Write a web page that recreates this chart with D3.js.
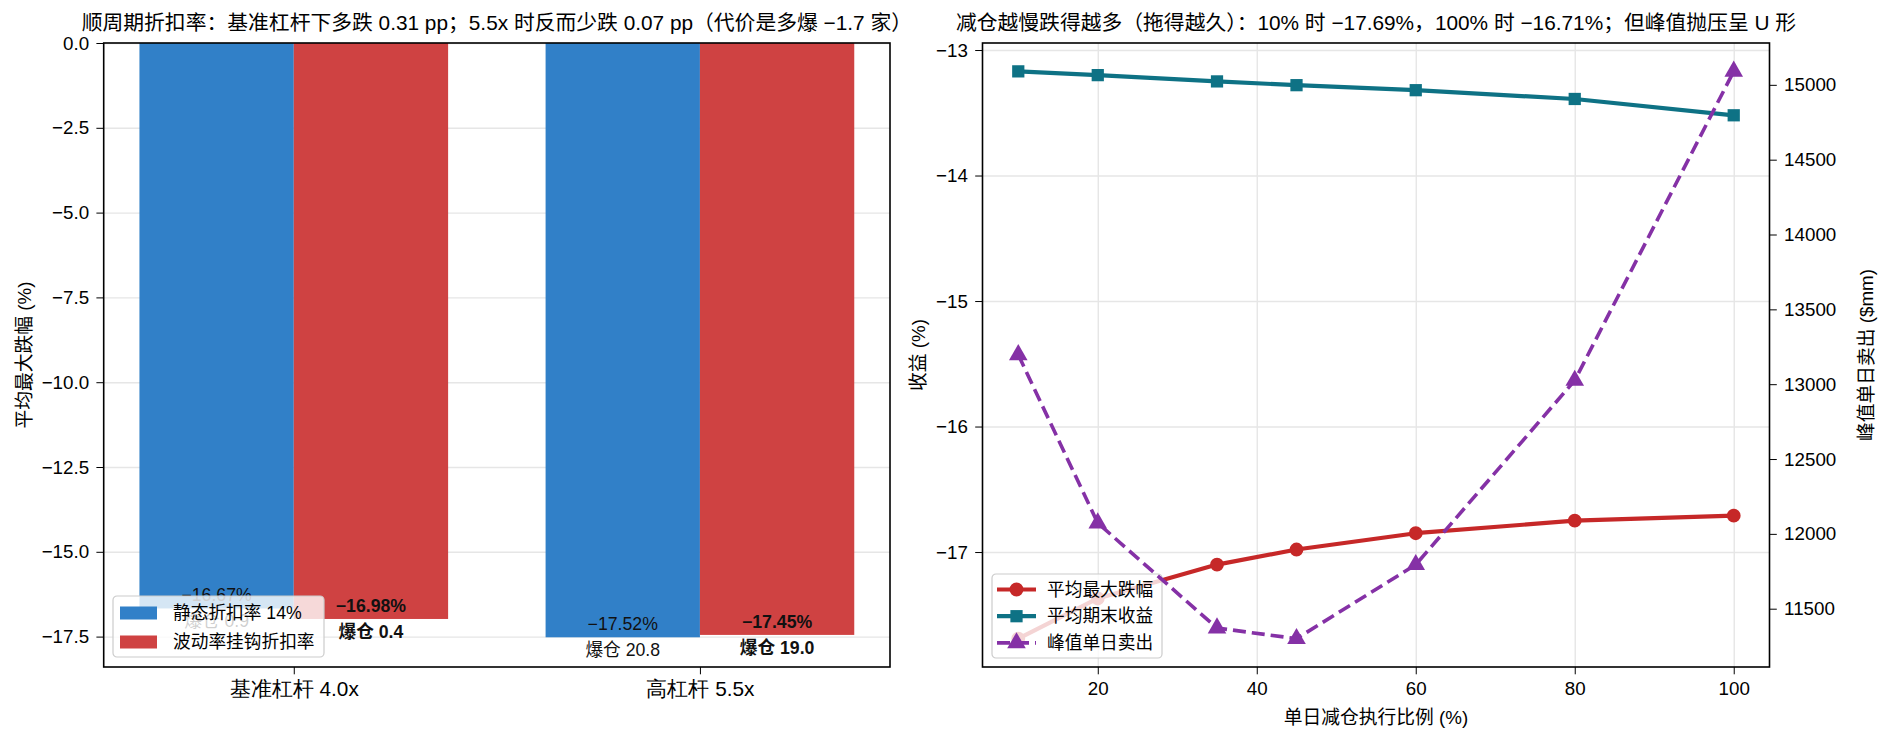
<!DOCTYPE html>
<html>
<head>
<meta charset="utf-8">
<script src="https://cdn.jsdelivr.net/npm/d3@7"></script>
<style>
  body { margin: 0; background: #fff; }
  svg { display: block; font-family: "Liberation Sans", "Noto Sans CJK SC", sans-serif; }
  .grid line { stroke: #e6e6e6; stroke-width: 1.4; }
  .grid path { display: none; }
  .ax path, .ax line { stroke: #000; }
  .ax text { fill: #000; }
</style>
</head>
<body>
<svg id="chart" width="1880" height="741"></svg>
<script>
"use strict";

// left panel: leverage groups
var leverageCats = ["基准杠杆 4.0x", "高杠杆 5.5x"];
var staticDD = [-16.67, -17.52];
var volDD = [-16.98, -17.45];
var staticBust = [0.9, 20.8];
var volBust = [0.4, 19.0];
var barSeries = ["静态折扣率 14%", "波动率挂钩折扣率"];
var leftTicks = [0, -2.5, -5, -7.5, -10, -12.5, -15, -17.5];

// right panel: execution speed
var execPct = [10, 20, 35, 45, 60, 80, 100];
var avgMaxDD = [-17.69, -17.37, -17.10, -16.98, -16.85, -16.75, -16.71];
var avgEndRet = [-13.17, -13.20, -13.25, -13.28, -13.32, -13.39, -13.52];
var peakSell = [13196, 12072, 11371, 11300, 11794, 13025, 15090];
var lineSeries = ["平均最大跌幅", "平均期末收益", "峰值单日卖出"];
var rightXTicks = [20, 40, 60, 80, 100];
var rightYTicks = [-13, -14, -15, -16, -17];
var sellTicks = [11500, 12000, 12500, 13000, 13500, 14000, 14500, 15000];

var C_BLUE = "#3180c8", C_RED = "#cf4242";
var C_DD = "#c62828", C_RET = "#0e7285", C_SELL = "#8531a6";

var svg = d3.select("#chart");
var minus = function(s){ return String(s).replace("-", "\u2212"); };

// ---------- left panel ----------
var L = {x0: 103.7, x1: 890, y0: 43, y1: 667};
var barW = 0.38;
var lx = d3.scaleLinear().domain([-barW - 0.088, 1 + barW + 0.088]).range([L.x0, L.x1]);
var lyMin = d3.min(staticDD.concat(volDD));
var ly = d3.scaleLinear().domain([lyMin * 1.05, 0]).range([L.y1, L.y0]);

var left = svg.append("g");

left.append("g").attr("class", "grid")
  .attr("transform", "translate(" + L.x0 + ",0)")
  .call(d3.axisLeft(ly).tickValues(leftTicks).tickSize(-(L.x1 - L.x0)).tickFormat(""));

var bars = [];
leverageCats.forEach(function(c, i){
  bars.push({x: i - barW / 2, v: staticDD[i], bust: staticBust[i], color: C_BLUE, bold: false});
  bars.push({x: i + barW / 2, v: volDD[i], bust: volBust[i], color: C_RED, bold: true});
});

left.selectAll(".bar").data(bars).enter().append("rect")
  .attr("class", "bar")
  .attr("x", function(d){ return lx(d.x - barW / 2); })
  .attr("width", function(d){ return lx(d.x + barW / 2) - lx(d.x - barW / 2); })
  .attr("y", ly(0))
  .attr("height", function(d){ return ly(d.v) - ly(0); })
  .attr("fill", function(d){ return d.color; });

var barLbl = left.selectAll(".blbl").data(bars).enter().append("g").attr("class", "blbl");
barLbl.append("text")
  .attr("x", function(d){ return lx(d.x); })
  .attr("y", function(d){ return ly(d.v) - 7; })
  .attr("text-anchor", "middle")
  .attr("font-size", "17.7px")
  .attr("font-weight", function(d){ return d.bold ? "bold" : "normal"; })
  .attr("fill", "#111")
  .text(function(d){ return minus(d.v.toFixed(2)) + "%"; });
barLbl.append("text")
  .attr("x", function(d){ return lx(d.x); })
  .attr("y", function(d){ return ly(d.v) + 19; })
  .attr("text-anchor", "middle")
  .attr("font-size", "17.7px")
  .attr("font-weight", function(d){ return d.bold ? "bold" : "normal"; })
  .attr("fill", "#111")
  .text(function(d){ return "爆仓 " + d.bust.toFixed(1); });

var lAxisY = left.append("g").attr("class", "ax")
  .attr("transform", "translate(" + L.x0 + ",0)")
  .call(d3.axisLeft(ly).tickValues(leftTicks).tickSize(7.3).tickPadding(7.3)
    .tickFormat(function(d){ return minus(d.toFixed(1)); }));
lAxisY.selectAll("text").attr("font-size", "18.75px");
var lAxisX = left.append("g").attr("class", "ax")
  .attr("transform", "translate(0," + L.y1 + ")")
  .call(d3.axisBottom(lx).tickValues([0, 1]).tickSize(7.3).tickPadding(7.3)
    .tickFormat(function(d){ return leverageCats[d]; }));
lAxisX.selectAll("text").attr("font-size", "20.8px");
svg.selectAll(".ax path").remove();

left.append("rect")
  .attr("x", L.x0).attr("y", L.y0).attr("width", L.x1 - L.x0).attr("height", L.y1 - L.y0)
  .attr("fill", "none").attr("stroke", "#000").attr("stroke-width", 1.6);

left.append("text")
  .attr("transform", "translate(24," + (L.y0 + L.y1) / 2 + ") rotate(-90)")
  .attr("text-anchor", "middle").attr("dominant-baseline", "central")
  .attr("font-size", "18.75px")
  .text("平均最大跌幅 (%)");

left.append("text")
  .attr("x", (L.x0 + L.x1) / 2).attr("y", 30)
  .attr("text-anchor", "middle").attr("font-size", "20.8px")
  .text("顺周期折扣率：基准杠杆下多跌 0.31 pp；5.5x 时反而少跌 0.07 pp（代价是多爆 \u22121.7 家）");

// left legend
var lLeg = left.append("g").attr("transform", "translate(113,596)");
lLeg.append("rect").attr("width", 211).attr("height", 61).attr("rx", 4)
  .attr("fill", "#fff").attr("fill-opacity", 0.8).attr("stroke", "#cccccc").attr("stroke-width", 1.2);
var lLegItems = lLeg.selectAll(".li").data(barSeries).enter().append("g")
  .attr("transform", function(d, i){ return "translate(0," + (17 + i * 29) + ")"; });
lLegItems.append("rect").attr("x", 7).attr("y", -6.5).attr("width", 37).attr("height", 13)
  .attr("fill", function(d, i){ return i === 0 ? C_BLUE : C_RED; });
lLegItems.append("text").attr("x", 60).attr("dominant-baseline", "central")
  .attr("font-size", "17.7px").text(function(d){ return d; });

// ---------- right panel ----------
var R = {x0: 982.5, x1: 1769.5, y0: 43, y1: 667};
function pad(ext){ var m = (ext[1] - ext[0]) * 0.05; return [ext[0] - m, ext[1] + m]; }
var rx = d3.scaleLinear().domain(pad(d3.extent(execPct))).range([R.x0, R.x1]);
var ry = d3.scaleLinear().domain(pad(d3.extent(avgMaxDD.concat(avgEndRet)))).range([R.y1, R.y0]);
var ry2 = d3.scaleLinear().domain(pad(d3.extent(peakSell))).range([R.y1, R.y0]);

var right = svg.append("g");
right.append("g").attr("class", "grid")
  .attr("transform", "translate(" + R.x0 + ",0)")
  .call(d3.axisLeft(ry).tickValues(rightYTicks).tickSize(-(R.x1 - R.x0)).tickFormat(""));
right.append("g").attr("class", "grid")
  .attr("transform", "translate(0," + R.y1 + ")")
  .call(d3.axisBottom(rx).tickValues(rightXTicks).tickSize(-(R.y1 - R.y0)).tickFormat(""));

function drawSeries(g, vals, yScale, color, marker, dashed){
  var pts = execPct.map(function(x, i){ return [rx(x), yScale(vals[i])]; });
  g.append("path")
    .attr("d", d3.line()(pts))
    .attr("fill", "none")
    .attr("stroke", color)
    .attr("stroke-width", dashed ? 3.6 : 4.2)
    .attr("stroke-dasharray", dashed ? "13,6" : null)
    .attr("stroke-linejoin", "round");
  var sym = d3.symbol().type(marker).size(marker === d3.symbolTriangle ? 150 : 150);
  g.selectAll(".m").data(pts).enter().append("path")
    .attr("transform", function(p){ return "translate(" + p[0] + "," + p[1] + ")"; })
    .attr("d", sym)
    .attr("fill", color);
}

var ax1 = right.append("g");
drawSeries(ax1, avgMaxDD, ry, C_DD, d3.symbolCircle, false);
drawSeries(ax1, avgEndRet, ry, C_RET, d3.symbolSquare, false);

// legend (belongs to left axis, so peak-sell line draws above it)
var rLeg = right.append("g").attr("transform", "translate(992,574)");
rLeg.append("rect").attr("width", 170).attr("height", 84).attr("rx", 4)
  .attr("fill", "#fff").attr("fill-opacity", 0.8).attr("stroke", "#cccccc").attr("stroke-width", 1.2);
var legColors = [C_DD, C_RET, C_SELL];
var legMarkers = [d3.symbolCircle, d3.symbolSquare, d3.symbolTriangle];
var rLegItems = rLeg.selectAll(".ri").data(lineSeries).enter().append("g")
  .attr("transform", function(d, i){ return "translate(0," + (15.5 + i * 26.7) + ")"; });
rLegItems.append("line").attr("x1", 5).attr("x2", 44)
  .attr("stroke", function(d, i){ return legColors[i]; })
  .attr("stroke-width", function(d, i){ return i === 2 ? 3.6 : 4.2; })
  .attr("stroke-dasharray", function(d, i){ return i === 2 ? "13,6" : null; });
rLegItems.append("path").attr("transform", "translate(24.5,0)")
  .attr("d", function(d, i){ return d3.symbol().type(legMarkers[i]).size(150)(); })
  .attr("fill", function(d, i){ return legColors[i]; });
rLegItems.append("text").attr("x", 55).attr("dominant-baseline", "central")
  .attr("font-size", "17.7px").text(function(d){ return d; });

var ax2 = right.append("g");
drawSeries(ax2, peakSell, ry2, C_SELL, d3.symbolTriangle, true);

var rAxisX = right.append("g").attr("class", "ax")
  .attr("transform", "translate(0," + R.y1 + ")")
  .call(d3.axisBottom(rx).tickValues(rightXTicks).tickSize(7.3).tickPadding(7.3));
var rAxisY = right.append("g").attr("class", "ax")
  .attr("transform", "translate(" + R.x0 + ",0)")
  .call(d3.axisLeft(ry).tickValues(rightYTicks).tickSize(7.3).tickPadding(7.3)
    .tickFormat(function(d){ return minus(d); }));
var rAxisY2 = right.append("g").attr("class", "ax")
  .attr("transform", "translate(" + R.x1 + ",0)")
  .call(d3.axisRight(ry2).tickValues(sellTicks).tickSize(7.3).tickPadding(7.3)
    .tickFormat(d3.format("d")));
right.selectAll(".ax text").attr("font-size", "18.75px");
svg.selectAll(".ax path").remove();

right.append("rect")
  .attr("x", R.x0).attr("y", R.y0).attr("width", R.x1 - R.x0).attr("height", R.y1 - R.y0)
  .attr("fill", "none").attr("stroke", "#000").attr("stroke-width", 1.6);

right.append("text")
  .attr("x", (R.x0 + R.x1) / 2).attr("y", 724)
  .attr("text-anchor", "middle").attr("font-size", "18.75px")
  .text("单日减仓执行比例 (%)");
right.append("text")
  .attr("transform", "translate(918," + (R.y0 + R.y1) / 2 + ") rotate(-90)")
  .attr("text-anchor", "middle").attr("dominant-baseline", "central")
  .attr("font-size", "18.75px").text("收益 (%)");
right.append("text")
  .attr("transform", "translate(1866," + (R.y0 + R.y1) / 2 + ") rotate(-90)")
  .attr("text-anchor", "middle").attr("dominant-baseline", "central")
  .attr("font-size", "18.75px").text("峰值单日卖出 ($mm)");
right.append("text")
  .attr("x", (R.x0 + R.x1) / 2).attr("y", 30)
  .attr("text-anchor", "middle").attr("font-size", "20.8px")
  .text("减仓越慢跌得越多（拖得越久）：10% 时 \u221217.69%，100% 时 \u221216.71%；但峰值抛压呈 U 形");
</script>
</body>
</html>
